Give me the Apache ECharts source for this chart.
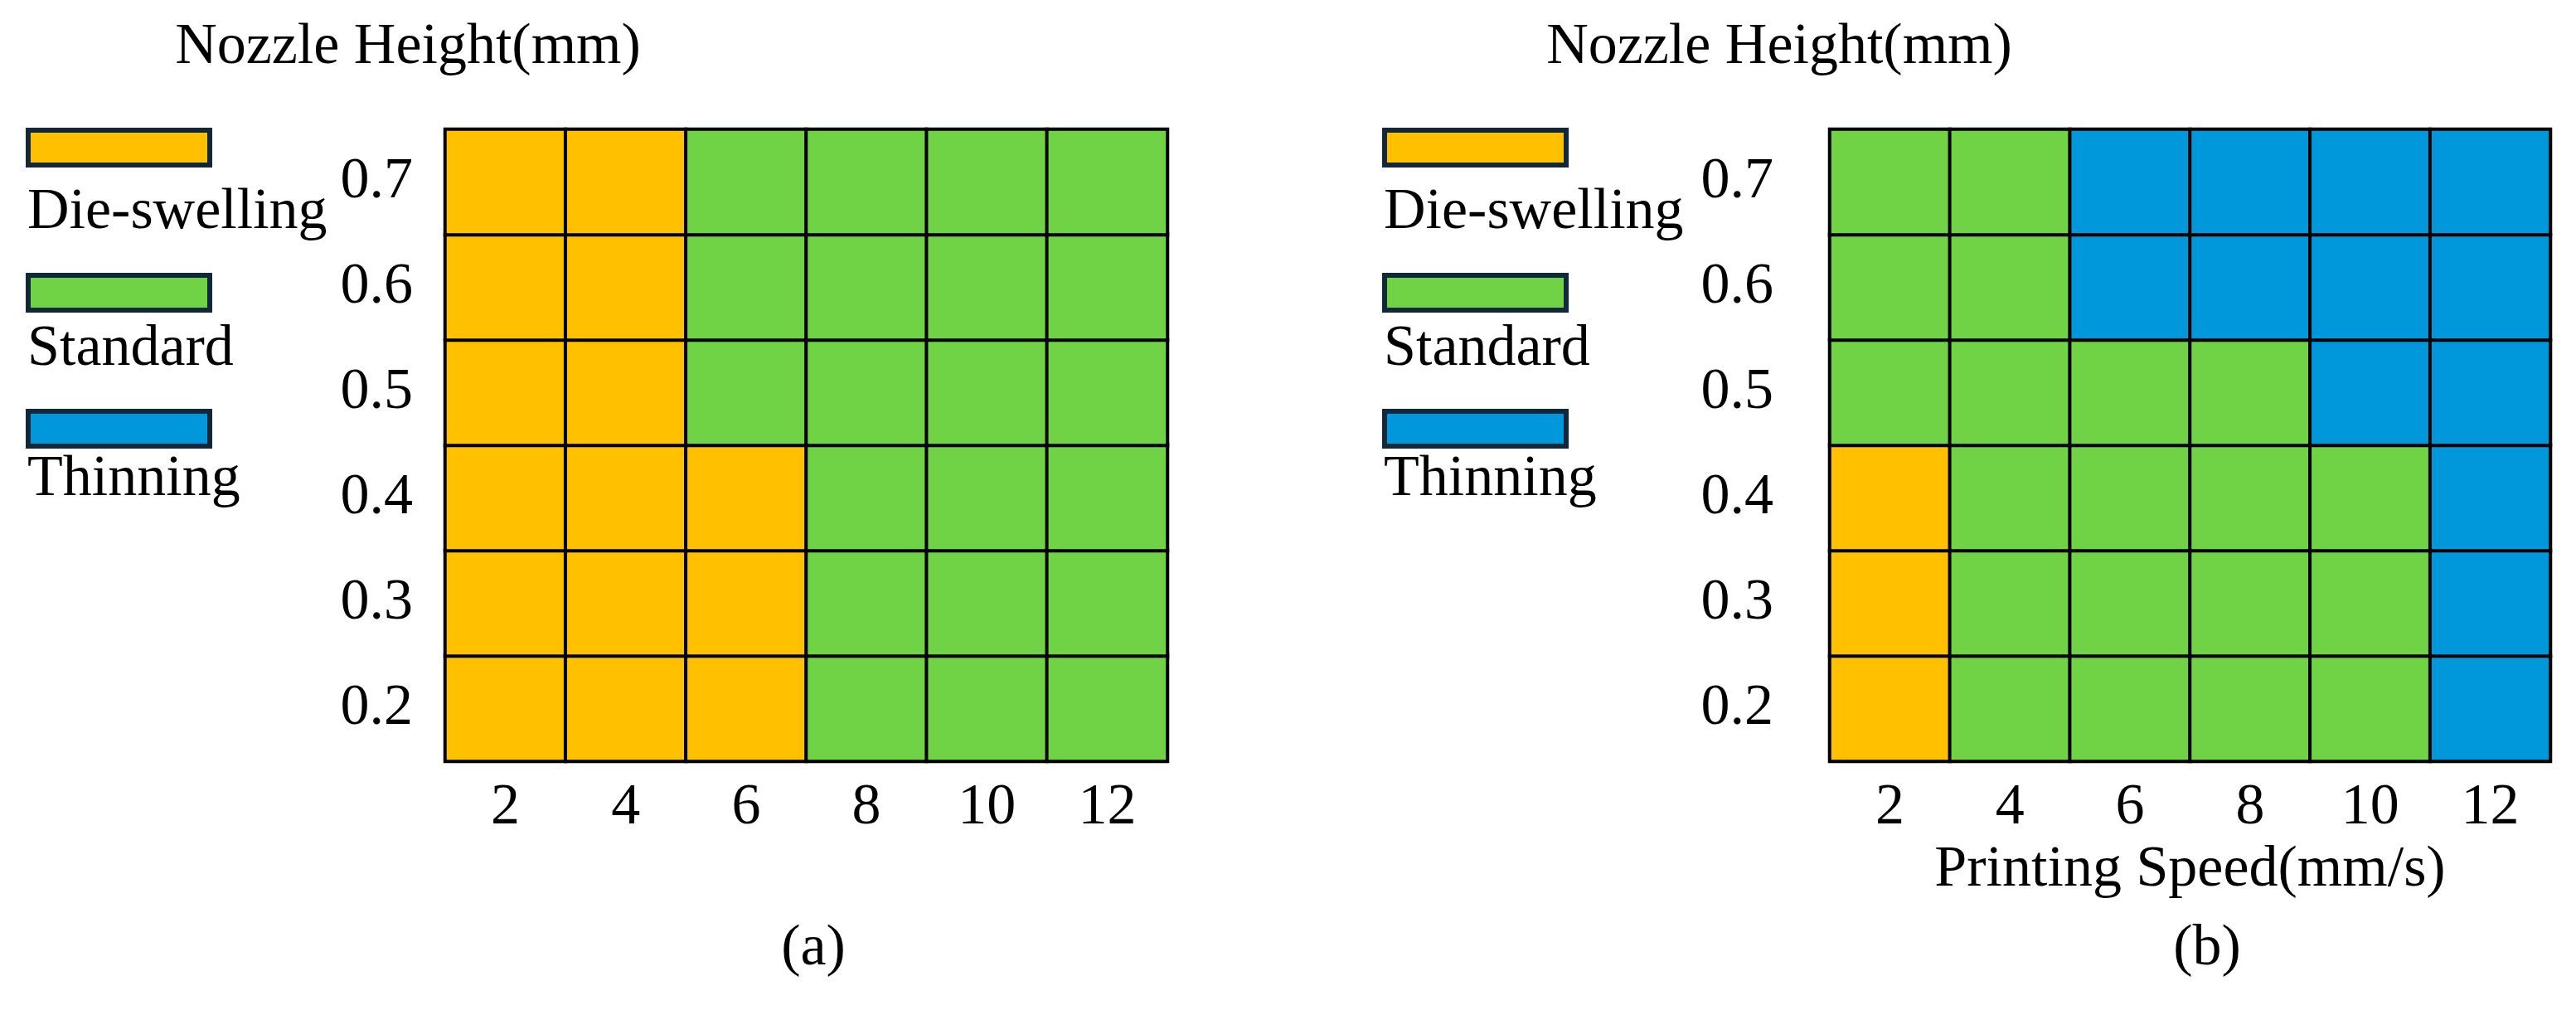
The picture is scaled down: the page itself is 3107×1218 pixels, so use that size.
<!DOCTYPE html>
<html>
<head>
<meta charset="utf-8">
<script src="https://cdn.jsdelivr.net/npm/echarts@6/dist/echarts.min.js"></script>
<style>
html,body{margin:0;padding:0;background:#fff;}
#chart{width:3107px;height:1218px;}
</style>
</head>
<body>
<div id="chart"></div>
<script>
// ---- data ----
const speeds = ['2', '4', '6', '8', '10', '12'];           // Printing Speed (mm/s)
const heights = ['0.2', '0.3', '0.4', '0.5', '0.6', '0.7']; // Nozzle Height (mm)
const states = ['Die-swelling', 'Standard', 'Thinning'];
const stateColors = ['#FFC000', '#6FD345', '#0098DB'];
// rows from 0.2 (bottom) to 0.7 (top); 0 = Die-swelling, 1 = Standard, 2 = Thinning
const panelA = [
  [0, 0, 0, 1, 1, 1],
  [0, 0, 0, 1, 1, 1],
  [0, 0, 0, 1, 1, 1],
  [0, 0, 1, 1, 1, 1],
  [0, 0, 1, 1, 1, 1],
  [0, 0, 1, 1, 1, 1]
];
const panelB = [
  [0, 1, 1, 1, 1, 2],
  [0, 1, 1, 1, 1, 2],
  [0, 1, 1, 1, 1, 2],
  [1, 1, 1, 1, 2, 2],
  [1, 1, 2, 2, 2, 2],
  [1, 1, 2, 2, 2, 2]
];
const panelLabels = ['(a)', '(b)'];
const yTitle = 'Nozzle Height(mm)';
const xTitle = 'Printing Speed(mm/s)';

// ---- build ----
const FONT = '"Liberation Serif", "Times New Roman", serif';
function toCells(m) {
  const out = [];
  m.forEach((row, yi) => row.forEach((v, xi) => out.push([xi, yi, v])));
  return out;
}

const grids = [
  { left: 537, top: 156, width: 871, height: 762 },
  { left: 2207, top: 156, width: 869, height: 762 }
];
const legendX = [31, 1667];
const legendRectY = [154, 329, 493];
const legendTextY = [257, 422, 579];

const graphic = [];
legendX.forEach(lx => {
  states.forEach((s, i) => {
    graphic.push({
      type: 'rect',
      shape: { x: lx + 3, y: legendRectY[i] + 3, width: 219, height: 42 },
      style: { fill: stateColors[i], stroke: '#10283A', lineWidth: 6 }
    });
    graphic.push({
      type: 'text',
      x: lx + 2, y: legendTextY[i],
      style: { text: s, font: '70px ' + FONT, fill: '#000', textAlign: 'left', textVerticalAlign: 'middle' }
    });
  });
});
const labelX = [981, 2662];
panelLabels.forEach((t, i) => {
  graphic.push({
    type: 'text', x: labelX[i], y: 1145,
    style: { text: t, font: '70px ' + FONT, fill: '#000', textAlign: 'center', textVerticalAlign: 'middle' }
  });
});

function xAxis(gi, withName) {
  return {
    type: 'category', gridIndex: gi, data: speeds,
    axisLine: { show: true, lineStyle: { color: '#000', width: 4 } },
    axisTick: { show: false },
    splitLine: { show: false },
    axisLabel: { fontSize: 70, fontFamily: FONT, color: '#000', margin: 22 },
    name: withName ? xTitle : '',
    nameLocation: 'middle', nameGap: 83,
    nameTextStyle: { fontSize: 70, fontFamily: FONT, color: '#000' }
  };
}
function yAxis(gi, margin, shift) {
  return {
    type: 'category', gridIndex: gi, data: heights,
    axisLine: { show: true, lineStyle: { color: '#000', width: 4 } },
    axisTick: { show: false },
    splitLine: { show: false },
    axisLabel: { fontSize: 70, fontFamily: FONT, color: '#000', margin: margin },
    name: yTitle, nameLocation: 'end', nameGap: 63,
    nameTextStyle: { fontSize: 70, fontFamily: FONT, color: '#000', align: 'center', padding: [0, shift, 0, 0] }
  };
}

const option = {
  backgroundColor: '#fff',
  animation: false,
  grid: grids,
  xAxis: [xAxis(0, false), xAxis(1, true)],
  yAxis: [yAxis(0, 39, 90), yAxis(1, 68, 122)],
  visualMap: [{
    type: 'piecewise', show: false, seriesIndex: [0, 1], dimension: 2,
    pieces: states.map((s, i) => ({ value: i, label: s, color: stateColors[i] }))
  }],
  graphic: graphic,
  series: [
    { type: 'heatmap', xAxisIndex: 0, yAxisIndex: 0, data: toCells(panelA),
      itemStyle: { borderColor: '#000', borderWidth: 4 }, emphasis: { disabled: true } },
    { type: 'heatmap', xAxisIndex: 1, yAxisIndex: 1, data: toCells(panelB),
      itemStyle: { borderColor: '#000', borderWidth: 4 }, emphasis: { disabled: true } }
  ]
};
const chart = echarts.init(document.getElementById('chart'), null, { renderer: 'canvas' });
chart.setOption(option);
</script>
</body>
</html>
